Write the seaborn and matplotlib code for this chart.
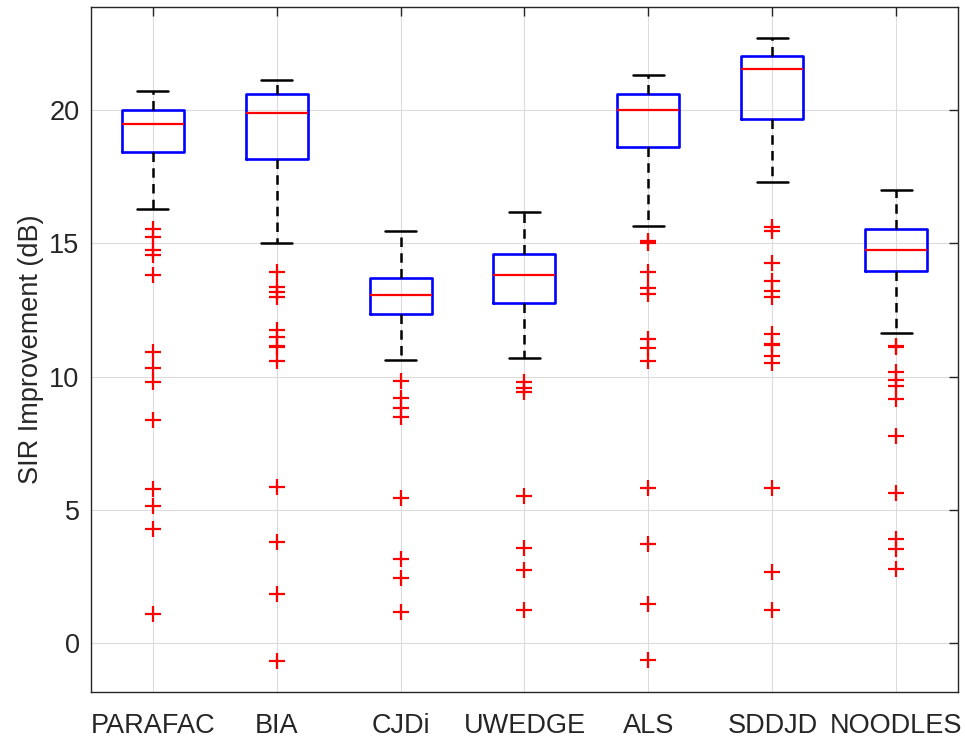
import numpy as np
import pandas as pd
import matplotlib
matplotlib.use("Agg")
import matplotlib.pyplot as plt
import seaborn as sns

# =========================
# DATA
# =========================
METHODS = ['PARAFAC', 'BIA', 'CJDi', 'UWEDGE', 'ALS', 'SDDJD', 'NOODLES']

WHISK_LO = [16.28, 15.02, 10.63, 10.72, 15.64, 17.32, 11.65]
Q1 = [18.42, 18.17, 12.34, 12.75, 18.61, 19.65, 13.97]
MEDIAN = [19.46, 19.90, 13.06, 13.80, 20.02, 21.53, 14.77]
Q3 = [20.00, 20.60, 13.72, 14.59, 20.62, 22.03, 15.53]
WHISK_HI = [20.71, 21.13, 15.47, 16.18, 21.31, 22.71, 17.00]

OUT_PARAFAC = [15.55, 15.25, 14.75, 14.55, 13.80, 10.93, 10.33, 9.79, 8.38, 5.79, 5.14, 4.29, 1.09]
OUT_BIA = [13.91, 13.37, 13.18, 12.99, 11.75, 11.50, 11.16, 11.10, 10.58, 5.85, 3.79, 1.87, -0.65]
OUT_CJDI = [9.85, 9.19, 8.81, 8.50, 5.47, 3.15, 2.44, 1.16]
OUT_UWEDGE = [9.81, 9.58, 9.41, 5.53, 3.58, 2.75, 1.25]
OUT_ALS = [15.10, 15.02, 13.91, 13.31, 13.10, 11.40, 11.08, 10.58, 5.83, 3.72, 1.47, -0.63]
OUT_SDDJD = [15.62, 15.47, 14.27, 13.60, 13.22, 13.00, 11.60, 11.22, 11.18, 10.78, 10.50, 5.83, 2.69, 1.25]
OUT_NOODLES = [11.14, 11.10, 10.16, 9.87, 9.65, 9.17, 7.78, 5.65, 3.90, 3.54, 2.79]

OUTLIERS = [OUT_PARAFAC, OUT_BIA, OUT_CJDI, OUT_UWEDGE, OUT_ALS, OUT_SDDJD, OUT_NOODLES]

YTICKS = [0, 5, 10, 15, 20]

# =========================
# STYLE
# =========================
sns.set_style("white")
plt.rcParams['font.family'] = ['Liberation Sans', 'DejaVu Sans']
plt.rcParams['font.size'] = 19.5
AX_COLOR = '#262626'
TEXT_COLOR = '#262626'

fig = plt.figure(figsize=(9.65, 7.42), dpi=100)
ax = fig.add_axes([0.094, 0.0678, 0.899, 0.923])

# grid first so it sits under everything
ax.set_axisbelow(True)

# boxes from the precomputed stats
stats = []
for i, m in enumerate(METHODS):
    stats.append({'label': m, 'whislo': WHISK_LO[i], 'q1': Q1[i], 'med': MEDIAN[i],
                  'q3': Q3[i], 'whishi': WHISK_HI[i], 'fliers': []})

ax.bxp(stats, positions=np.arange(len(METHODS)), widths=0.5, capwidths=0.25,
       showfliers=False,
       boxprops=dict(color='#0000ff', linewidth=1.9),
       medianprops=dict(color='#ff0000', linewidth=1.6),
       whiskerprops=dict(color='black', linewidth=1.8, linestyle=(0, (3.8, 2.5))),
       capprops=dict(color='black', linewidth=1.8))

# outliers via seaborn
out_df = pd.DataFrame({
    'method': [m for m, vals in zip(METHODS, OUTLIERS) for _ in vals],
    'value': [v for vals in OUTLIERS for v in vals],
})
sns.stripplot(data=out_df, x='method', y='value', order=METHODS, jitter=False,
              marker='+', color='#ff0000', size=11.5, linewidth=1.6, ax=ax, zorder=3)

# =========================
# AXES
# =========================
ax.set_xlim(-0.5, len(METHODS) - 0.5)
ax.set_ylim(-1.81, 23.87)
ax.set_xticks(np.arange(len(METHODS)))
ax.set_xticklabels(METHODS)
ax.set_yticks(YTICKS)
ax.set_xlabel('')
ax.set_ylabel('SIR Improvement (dB)', color=TEXT_COLOR, labelpad=4)
ax.grid(True, color='#dcdcdc', linewidth=0.8)

for side in ['left', 'right', 'top', 'bottom']:
    ax.spines[side].set_visible(True)
    ax.spines[side].set_color(AX_COLOR)
    ax.spines[side].set_linewidth(1.0)

ax.tick_params(axis='both', direction='in', length=6.5, width=1.0, color=AX_COLOR,
               labelcolor=TEXT_COLOR, top=True, right=True)
ax.tick_params(axis='x', pad=15)
ax.tick_params(axis='y', pad=8)

fig.savefig('out.png', dpi=100)
plt.close(fig)
